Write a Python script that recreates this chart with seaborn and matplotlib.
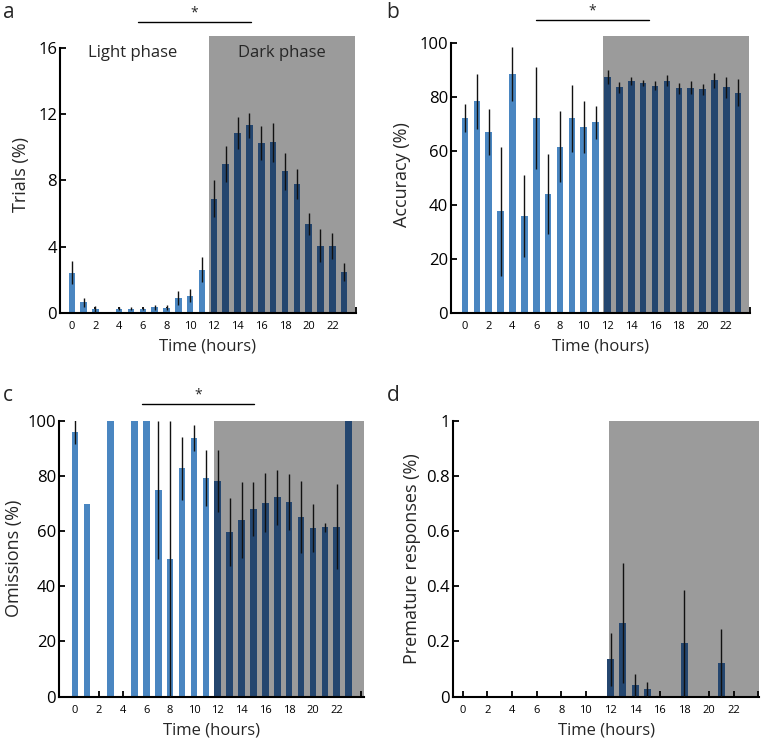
import numpy as np
import pandas as pd
import seaborn as sns
import matplotlib.pyplot as plt

# hour of day (0-23), light phase = 0-11, dark phase = 12-23
hours = list(range(24))
phase = ['light'] * 12 + ['dark'] * 12

trials = [2.43, 0.62, 0.22, 0.06, 0.24, 0.24, 0.20, 0.32, 0.30, 0.89, 1.03, 2.60,
          6.90, 9.01, 10.89, 11.33, 10.28, 10.30, 8.55, 7.79, 5.35, 4.06, 4.04, 2.45]
trials_err = [0.69, 0.29, 0.16, 0.0, 0.08, 0.10, 0.06, 0.16, 0.14, 0.40, 0.38, 0.76,
              1.13, 1.09, 0.97, 0.76, 1.03, 1.17, 1.13, 0.92, 0.67, 0.99, 0.77, 0.55]

accuracy = [72.1, 78.3, 66.8, 37.5, 88.3, 35.8, 72.1, 43.8, 61.5, 71.9, 68.7, 70.4,
            87.3, 83.4, 85.7, 85.0, 84.0, 85.9, 83.1, 83.2, 82.7, 86.1, 83.4, 81.5]
accuracy_err = [5.2, 10.2, 8.6, 24.0, 9.9, 15.0, 18.9, 14.8, 13.1, 12.4, 9.6, 6.2,
                2.5, 2.0, 1.6, 1.1, 1.7, 2.1, 2.0, 2.4, 2.1, 2.8, 4.0, 4.9]

omissions = [95.9, 69.9, 0.0, 100.0, 0.0, 100.0, 100.0, 74.9, 49.9, 82.7, 93.6, 79.2,
             78.1, 59.7, 63.9, 68.0, 70.3, 72.3, 70.5, 65.1, 61.1, 61.4, 61.5, 100.0]
omissions_err = [4.2, 0.0, 0.0, 0.0, 0.0, 0.0, 0.0, 25.0, 50.0, 11.5, 4.7, 10.0,
                 11.1, 12.2, 13.8, 9.8, 10.6, 10.0, 10.2, 13.2, 8.6, 1.7, 15.4, 0.0]

premature = [0, 0, 0, 0, 0, 0, 0, 0, 0, 0, 0, 0,
             0.135, 0.267, 0.042, 0.027, 0, 0, 0.193, 0, 0, 0.122, 0, 0]
premature_err = [0, 0, 0, 0, 0, 0, 0, 0, 0, 0, 0, 0,
                 0.096, 0.217, 0.042, 0.027, 0, 0, 0.193, 0, 0, 0.124, 0, 0]

colors = {'light': '#4a86c1', 'dark': '#24466f'}
grey = '#9b9b9b'

sns.set_style('ticks')
plt.rcParams['font.family'] = ['Open Sans', 'DejaVu Sans']

fig = plt.figure(figsize=(7.61, 7.41), dpi=100)


def panel(rect, values, errors, ylabel, ymax, yticks, yticklabels, xlim, dark_start,
          spine_top, ypad=6):
    ax = fig.add_axes(rect)
    df = pd.DataFrame({'hour': hours, 'value': values, 'phase': phase})
    ax.axvspan(dark_start, xlim[1], color=grey, lw=0, zorder=0)
    sns.barplot(data=df, x='hour', y='value', hue='phase', palette=colors, dodge=False,
                width=0.55, order=hours, legend=False, ax=ax, zorder=2, saturation=1,
                linewidth=0, edgecolor='none')
    v = np.array(values)
    e = np.array(errors)
    ax.vlines(hours, v - e, v + e, color='#111111', lw=1.0, zorder=3)
    ax.set_xlim(*xlim)
    ax.set_ylim(0, ymax)
    ax.set_xticks(range(0, 25, 2))
    ax.set_xticklabels([str(h) for h in range(0, 23, 2)] + [''], fontsize=8)
    ax.set_yticks(yticks)
    ax.set_yticklabels(yticklabels, fontsize=12)
    ax.tick_params(direction='in', length=4, width=1.3, colors='black')
    ax.tick_params(axis='x', pad=6)
    ax.tick_params(axis='y', pad=2)
    ax.set_xlabel('Time (hours)', fontsize=12, labelpad=5)
    ax.set_ylabel(ylabel, fontsize=13, labelpad=ypad)
    sns.despine(ax=ax)
    for s in ['left', 'bottom']:
        ax.spines[s].set_linewidth(1.5)
        ax.spines[s].set_color('black')
    ax.spines['left'].set_bounds(0, spine_top)
    ax.set_facecolor('none')
    return ax


def sig_bar(ax, x0, x1, y):
    ax.plot([x0, x1], [y, y], color='black', lw=1.0, clip_on=False)
    ax.annotate('*', xy=((x0 + x1) / 2, y), xytext=(0, 4), textcoords='offset points',
                ha='center', va='baseline', fontsize=10, annotation_clip=False)


ax_a = panel([0.0788, 0.578, 0.389, 0.373], trials, trials_err, 'Trials (%)', 16.71,
             [0, 4, 8, 12, 16], ['0', '4', '8', '12', '16'], (-1.0, 23.95), 11.6, 16)
ax_a.text(5.1, 15.7, 'Light phase', ha='center', va='center', fontsize=12)
ax_a.text(17.7, 15.7, 'Dark phase', ha='center', va='center', fontsize=12)
sig_bar(ax_a, 5.56, 15.1, 17.6)

ax_b = panel([0.5926, 0.578, 0.393, 0.373], accuracy, accuracy_err, 'Accuracy (%)', 102.3,
             [0, 20, 40, 60, 80, 100], ['0', '20', '40', '60', '80', '100'],
             (-1.18, 23.95), 11.6, 100)
sig_bar(ax_b, 5.96, 15.5, 108.2)

ax_c = panel([0.0775, 0.0598, 0.401, 0.3725], omissions, omissions_err, 'Omissions (%)', 100,
             [0, 20, 40, 60, 80, 100], ['0', '20', '40', '60', '80', '100'],
             (-1.34, 24.3), 11.7, 100, ypad=3)
sig_bar(ax_c, 5.63, 15.04, 106.0)

ax_d = panel([0.595, 0.0598, 0.403, 0.3725], premature, premature_err,
             'Premature responses (%)', 1.0,
             [0, 0.2, 0.4, 0.6, 0.8, 1.0], ['0', '0.2', '0.4', '0.6', '0.8', '1'],
             (-0.81, 24.1), 11.85, 1.0, ypad=4)

for letter, x, y in [('a', 0.004, 0.976), ('b', 0.508, 0.976),
                     ('c', 0.004, 0.459), ('d', 0.508, 0.459)]:
    fig.text(x, y, letter, fontsize=15, va='baseline', ha='left')

fig.savefig('out.png', dpi=100)
